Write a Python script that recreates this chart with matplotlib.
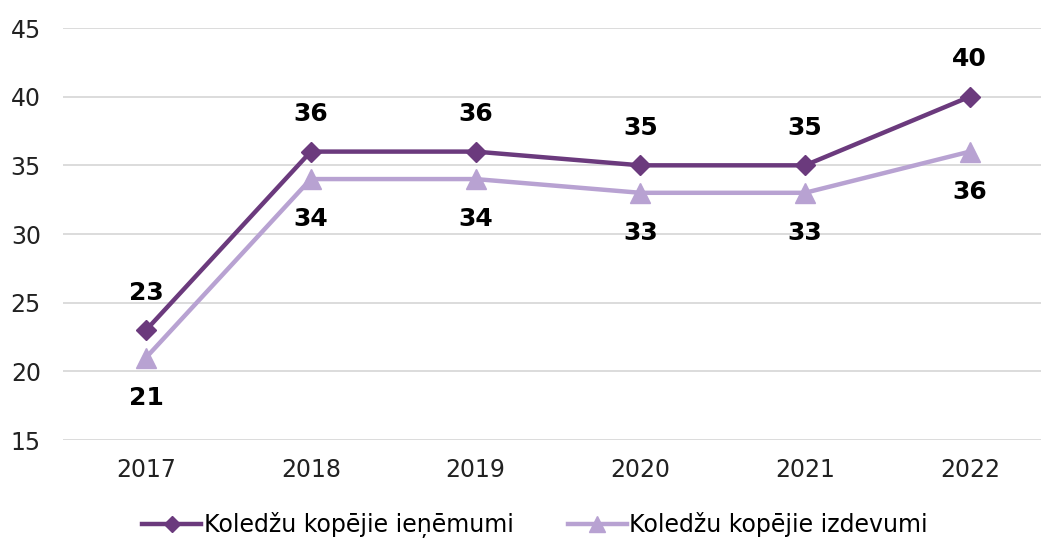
import matplotlib
matplotlib.use("Agg")
import matplotlib.pyplot as plt

# data
years = ["2017", "2018", "2019", "2020", "2021", "2022"]
income = [23, 36, 36, 35, 35, 40]
expenses = [21, 34, 34, 33, 33, 36]
income_label = "Koledžu kopējie ieņēmumi"
expenses_label = "Koledžu kopējie izdevumi"

dark = "#6b3a7d"
light = "#b8a2d2"

plt.rcParams["font.family"] = ["DejaVu Sans"]

fig = plt.figure(figsize=(10.41, 5.39), dpi=100)
ax = fig.add_axes([63 / 1041, 99 / 539, 978 / 1041, 412 / 539])

x = list(range(len(years)))
ax.plot(x, income, color=dark, lw=3.2, marker="D", ms=10, label=income_label, zorder=4)
ax.plot(x, expenses, color=light, lw=3.2, marker="^", ms=14, label=expenses_label, zorder=3)

for xi, v in zip(x, income):
    ax.annotate(str(v), (xi, v), xytext=(0, 27), textcoords="offset points",
                ha="center", va="center", fontsize=18, fontweight="bold", color="black")
for xi, v in zip(x, expenses):
    ax.annotate(str(v), (xi, v), xytext=(0, -29), textcoords="offset points",
                ha="center", va="center", fontsize=18, fontweight="bold", color="black")

ax.set_xlim(-0.504, 5.432)
ax.set_ylim(15, 45)
ax.set_yticks(range(15, 46, 5))
ax.set_xticks(x)
ax.set_xticklabels(years)
ax.yaxis.grid(True, color="#d9d9d9", lw=1.3)
ax.set_axisbelow(True)
for s in ax.spines.values():
    s.set_visible(False)
ax.tick_params(length=0, labelsize=17, colors="#222222")
ax.tick_params(axis="x", pad=13)
ax.tick_params(axis="y", pad=16)

fig.legend(loc="center", bbox_to_anchor=(535 / 1041, 1 - 525 / 539), ncol=2,
           frameon=False, fontsize=17, handlelength=2.5, columnspacing=2.3,
           handletextpad=0.1, markerscale=0.85)

fig.savefig("out.png", dpi=100)
